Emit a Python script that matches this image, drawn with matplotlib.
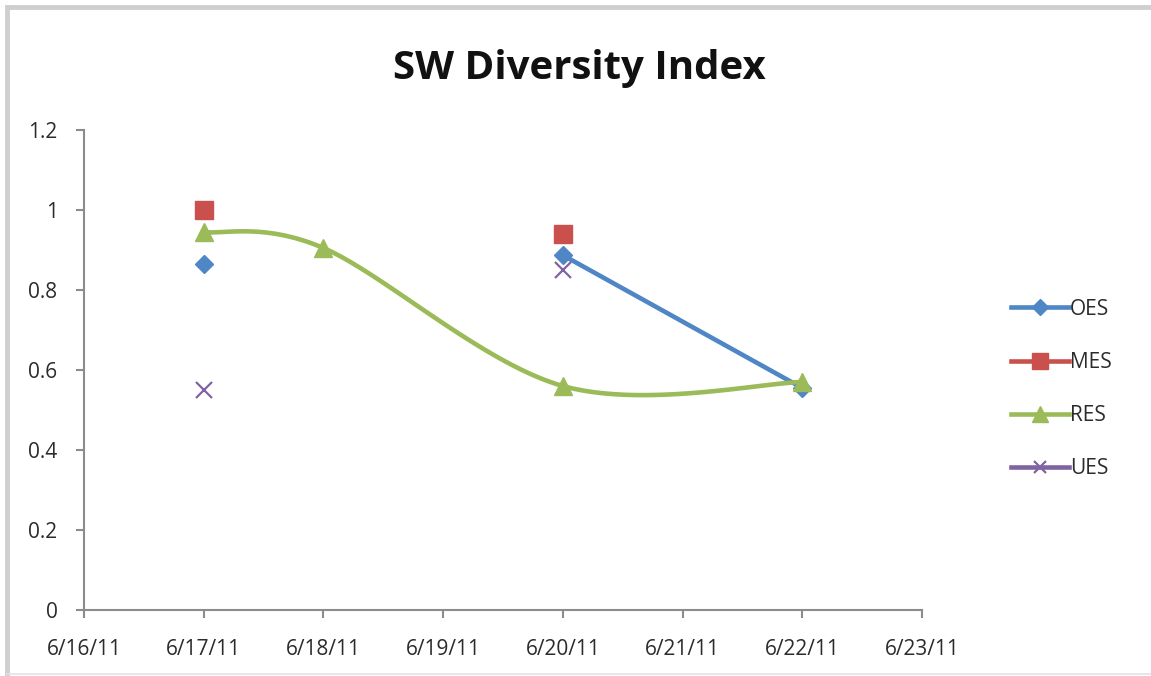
import numpy as np
import matplotlib
matplotlib.use("Agg")
import matplotlib.pyplot as plt
import matplotlib.dates as mdates
from matplotlib.lines import Line2D
import datetime as dt

plt.rcParams['font.family'] = ['Open Sans', 'DejaVu Sans']

# ---- data ----
dates = ["2011-06-17", "2011-06-18", "2011-06-20", "2011-06-22"]
oes = [0.865, np.nan, 0.887, 0.555]
mes = [1.0, np.nan, 0.94, np.nan]
res = [0.945, 0.905, 0.56, 0.57]
ues = [0.55, np.nan, 0.85, np.nan]
series_names = ["OES", "MES", "RES", "UES"]
x_tick_labels = ["6/16/11", "6/17/11", "6/18/11", "6/19/11", "6/20/11", "6/21/11", "6/22/11", "6/23/11"]
y_ticks = [0, 0.2, 0.4, 0.6, 0.8, 1.0, 1.2]
y_tick_labels = ["0", "0.2", "0.4", "0.6", "0.8", "1", "1.2"]

colors = {"OES": "#4F86C6", "MES": "#C9504D", "RES": "#9BBB59", "UES": "#8064A2"}
markers = {"OES": "D", "MES": "s", "RES": "^", "UES": "x"}
msizes = {"OES": 9, "MES": 13, "RES": 13, "UES": 11}

xd = mdates.date2num([dt.datetime.strptime(d, "%Y-%m-%d") for d in dates])


def smooth(x, y, n=40):
    """Excel-like smoothed curve (Catmull-Rom Bezier)."""
    x = np.asarray(x, float)
    y = np.asarray(y, float)
    P = np.column_stack([x, y])
    out = []
    m = len(P)
    for i in range(m - 1):
        p0 = P[i - 1] if i > 0 else P[i]
        p1 = P[i]
        p2 = P[i + 1]
        p3 = P[i + 2] if i + 2 < m else P[i + 1]
        c1 = p1 + (p2 - p0) / 6.0
        c2 = p2 - (p3 - p1) / 6.0
        t = np.linspace(0, 1, n)[:, None]
        b = ((1 - t) ** 3) * p1 + 3 * ((1 - t) ** 2) * t * c1 + 3 * (1 - t) * t ** 2 * c2 + t ** 3 * p2
        out.append(b if i == 0 else b[1:])
    B = np.vstack(out)
    return B[:, 0], B[:, 1]


fig = plt.figure(figsize=(11.51, 6.76), dpi=100)
ax = fig.add_axes([84 / 1151, 1 - 610 / 676, (922 - 84) / 1151, (610 - 130) / 676])

data = {"OES": oes, "MES": mes, "RES": res, "UES": ues}
lw = 3.3
for name in series_names:
    vals = np.array(data[name], float)
    c = colors[name]
    if name == "RES":
        sx, sy = smooth(xd, vals)
        ax.plot(sx, sy, color=c, lw=lw, solid_capstyle='round', zorder=3)
        ax.plot(xd, vals, ls='none', marker=markers[name], ms=msizes[name], color=c, zorder=4)
    else:
        mew = 1.6 if name == "UES" else 1
        ax.plot(xd, vals, color=c, lw=lw, marker=markers[name], ms=msizes[name],
                mew=mew, solid_capstyle='round', zorder=3)

start = mdates.date2num(dt.datetime(2011, 6, 16))
ticks = start + np.arange(len(x_tick_labels))
ax.set_xlim(ticks[0], ticks[-1])
ax.set_ylim(0, 1.2)
ax.set_xticks(ticks)
ax.set_xticklabels(x_tick_labels)
ax.set_yticks(y_ticks)
ax.set_yticklabels(y_tick_labels)

gray = "#8C8C8C"
for s in ["top", "right"]:
    ax.spines[s].set_visible(False)
for s in ["left", "bottom"]:
    ax.spines[s].set_color(gray)
    ax.spines[s].set_linewidth(1.5)
ax.tick_params(axis='both', direction='out', length=6, width=1.5, color=gray,
               labelsize=15, labelcolor="#2B2B2B")
ax.tick_params(axis='y', pad=13)
ax.tick_params(axis='x', pad=15)

fig.text(579 / 1151, 1 - 68 / 676, "SW Diversity Index", ha='center', va='center',
         fontsize=29, fontweight='bold', color="#111111")

handles = []
for name in series_names:
    handles.append(Line2D([], [], color=colors[name], lw=lw, marker=markers[name],
                          ms=msizes[name] * 0.85, mew=1.6 if name == "UES" else 1))
leg = fig.legend(handles, series_names, loc='center left',
                 bbox_to_anchor=(1001 / 1151, 1 - 389 / 676), frameon=False,
                 fontsize=15, handlelength=2.75, handletextpad=0.05,
                 labelspacing=1.55, borderpad=0)
for t in leg.get_texts():
    t.set_color("#2B2B2B")

# outer frame (cropped chart border)
fig.add_artist(Line2D([7 / 1151, 1], [1 - 7 / 676, 1 - 7 / 676], color="#CFCFCF", lw=3.5,
                      transform=fig.transFigure))
fig.add_artist(Line2D([7 / 1151, 7 / 1151], [1 - 7 / 676, 0], color="#CFCFCF", lw=3.5,
                      transform=fig.transFigure))
fig.add_artist(Line2D([7 / 1151, 1], [1 - 674 / 676, 1 - 674 / 676], color="#E3E3E3", lw=1.2,
                      transform=fig.transFigure))

fig.savefig("out.png", dpi=100)
